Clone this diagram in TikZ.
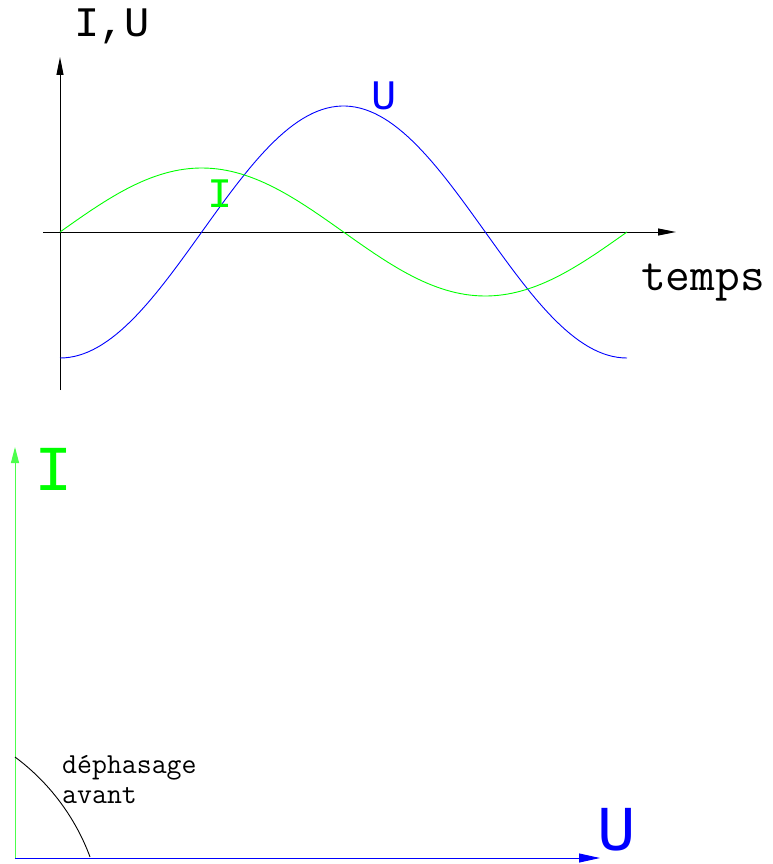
\documentclass[tikz,border=0pt]{standalone}
\usepackage{fontspec}
\setmainfont{Liberation Mono}
\usetikzlibrary{arrows.meta}

\begin{document}
\begin{tikzpicture}[
  x=1pt, y=1pt,
  axis/.style={draw, line width=1pt, -{Triangle[length=18pt,width=7pt]}},
  wave/.style={line width=0.9pt},
  lbl/.style={inner sep=0pt, anchor=base},
  small/.style={font=\fontsize{42}{42}\selectfont},
  large/.style={font=\fontsize{64}{64}\selectfont},
  typed/.style={font=\ttfamily\fontsize{48}{48}\selectfont}
]
  \useasboundingbox (0,0) rectangle (773,-864);

  % courbes I et U en fonction du temps
  \coordinate (o1) at (60,-232);
  \coordinate (ybot) at (60,-390);
  \coordinate (ytop) at (60,-57);
  \coordinate (xleft) at (43,-232);
  \coordinate (xright) at (676,-232);
  \path [axis] (ybot) -- (ytop);
  \path [axis] (xleft) -- (xright);
  \draw [wave, blue] plot [domain=0:360, samples=120] ({60+1.575*\x}, {-232-126*cos(\x)});
  \draw [wave, green] plot [domain=0:360, samples=120] ({60+1.575*\x}, {-232+64*sin(\x)});

  \node [lbl, small, anchor=base west] (axlabel) at (74,-37) {I,U};
  \node [lbl, typed, anchor=base west] (temps) at (641,-290) {temps};
  \node [lbl, small, blue] (ulabel) at (384,-110) {U};
  \node [lbl, small, green] (ilabel) at (220,-207) {I};

  % diagramme vectoriel
  \coordinate (o2) at (15,-858);
  \coordinate (itip) at (15,-447);
  \coordinate (utip) at (600,-858);
  \path [axis, green!70, -{Triangle[length=16pt,width=8pt]}] (o2) -- (itip);
  \path [axis, blue, -{Triangle[length=21pt,width=9pt]}] (o2) -- (utip);
  \draw [line width=0.9pt] (15,-757) arc [start angle=53.4, end angle=20.4, radius=220];

  \node [lbl, large, green] (ivec) at (54,-490) {I};
  \node [lbl, large, blue] (uvec) at (617,-850) {U};
  \node [inner sep=0pt, anchor=north west, align=left,
         font=\ttfamily\fontsize{29}{30}\selectfont] (dephasage) at (62,-755) {déphasage\\avant};
\end{tikzpicture}
\end{document}
